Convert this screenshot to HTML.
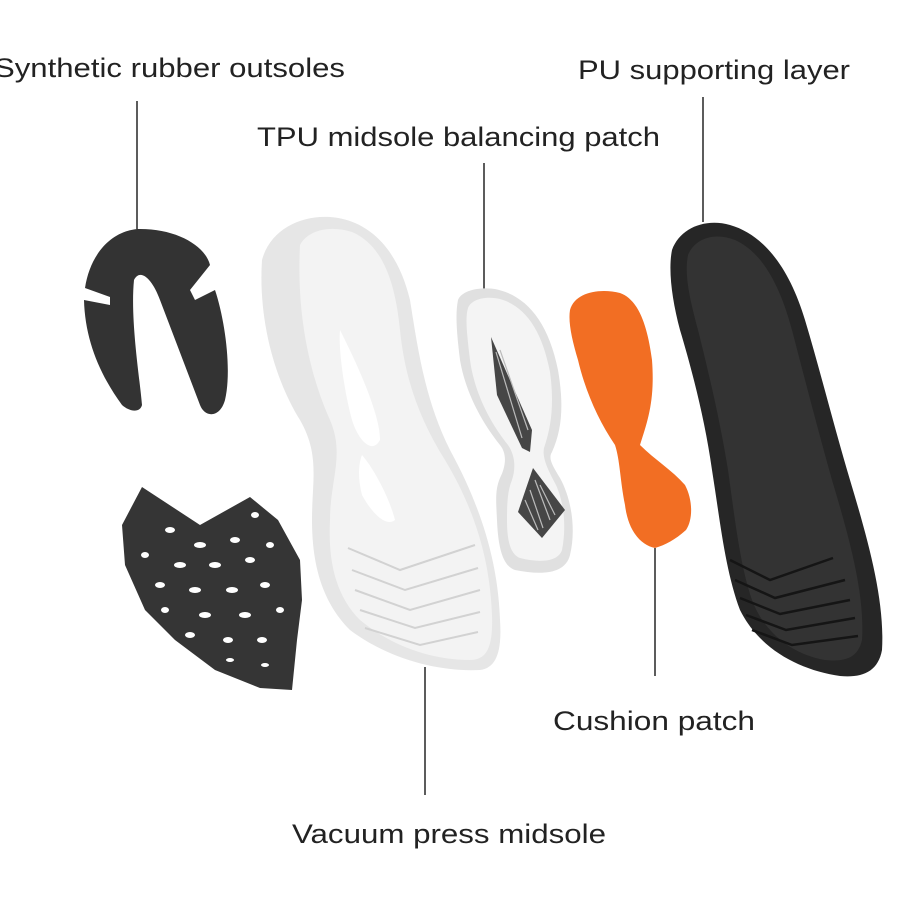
<!DOCTYPE html>
<html><head><meta charset="utf-8"><style>
html,body{margin:0;padding:0;background:#fff;}
svg{display:block;}
text{font-family:"Liberation Sans",sans-serif;font-size:27px;fill:#222;}
</style></head><body>
<svg width="912" height="912" viewBox="0 0 912 912" xmlns="http://www.w3.org/2000/svg">
<rect width="912" height="912" fill="#fff"/>
<text x="-6" y="77" textLength="351" lengthAdjust="spacingAndGlyphs">Synthetic rubber outsoles</text>
<text x="578" y="79" textLength="272" lengthAdjust="spacingAndGlyphs">PU supporting layer</text>
<text x="257" y="146" textLength="403" lengthAdjust="spacingAndGlyphs">TPU midsole balancing patch</text>
<text x="553" y="730" textLength="202" lengthAdjust="spacingAndGlyphs">Cushion patch</text>
<text x="292" y="843" textLength="314" lengthAdjust="spacingAndGlyphs">Vacuum press midsole</text>
<g stroke="#333" stroke-width="1.6">
<line x1="137" y1="101" x2="137" y2="229"/>
<line x1="703" y1="97" x2="703" y2="222"/>
<line x1="484" y1="163" x2="484" y2="289"/>
<line x1="655" y1="548" x2="655" y2="676"/>
<line x1="425" y1="667" x2="425" y2="795"/>
</g>
<!-- horseshoe -->
<path d="M137,229 C175,228 205,245 210,265 L190,290 L195,300 L215,290 C225,320 232,370 225,400 C220,418 205,418 200,405 L160,300 C152,278 140,268 134,280 C130,320 140,380 142,405 C140,413 130,412 122,405 C100,375 85,340 84,300 L110,305 L110,297 L85,288 C90,255 110,232 137,229 Z" fill="#333"/>
<!-- mesh -->
<path d="M142,487 L200,525 L250,497 L278,520 L300,560 L302,600 L297,640 L292,690 L260,688 L215,670 L175,640 L145,610 L125,565 L122,525 Z" fill="#353535"/>
<g fill="#fff">
<ellipse cx="170" cy="530" rx="5" ry="3"/><ellipse cx="200" cy="545" rx="6" ry="3"/><ellipse cx="235" cy="540" rx="5" ry="3"/><ellipse cx="255" cy="515" rx="4" ry="3"/>
<ellipse cx="145" cy="555" rx="4" ry="3"/><ellipse cx="180" cy="565" rx="6" ry="3"/><ellipse cx="215" cy="565" rx="6" ry="3"/><ellipse cx="250" cy="560" rx="5" ry="3"/><ellipse cx="270" cy="545" rx="4" ry="3"/>
<ellipse cx="160" cy="585" rx="5" ry="3"/><ellipse cx="195" cy="590" rx="6" ry="3"/><ellipse cx="232" cy="590" rx="6" ry="3"/><ellipse cx="265" cy="585" rx="5" ry="3"/>
<ellipse cx="165" cy="610" rx="4" ry="3"/><ellipse cx="205" cy="615" rx="6" ry="3"/><ellipse cx="245" cy="615" rx="6" ry="3"/><ellipse cx="280" cy="610" rx="4" ry="3"/>
<ellipse cx="190" cy="635" rx="5" ry="3"/><ellipse cx="228" cy="640" rx="5" ry="3"/><ellipse cx="262" cy="640" rx="5" ry="3"/>
<ellipse cx="230" cy="660" rx="4" ry="2"/><ellipse cx="265" cy="665" rx="4" ry="2"/>
</g>
<!-- vacuum midsole -->
<path d="M262,260 C270,230 300,215 330,217 C370,220 398,250 410,300 C418,350 425,400 450,450 C480,505 498,560 500,620 C502,650 497,668 480,670 C440,672 390,660 350,630 C320,600 312,560 312,520 C312,480 320,455 300,420 C275,380 258,320 262,260 Z" fill="#e6e6e6"/>
<path d="M300,245 C308,230 330,225 352,232 C382,245 395,280 400,330 C405,380 420,420 445,460 C475,510 490,560 492,615 C493,645 488,660 470,660 C430,660 390,645 360,620 C335,595 328,560 330,520 C330,480 345,455 330,420 C312,380 296,320 300,245 Z" fill="#f3f3f3"/>
<path d="M340,330 C350,350 380,410 380,440 C372,455 358,440 352,420 C345,395 338,350 340,330 Z" fill="#fff"/>
<path d="M362,455 C375,470 390,500 395,520 C385,528 370,510 362,495 C358,480 358,465 362,455 Z" fill="#fff"/>
<g stroke="#d2d2d2" stroke-width="2" fill="none">
<path d="M348,548 L400,570 L475,545"/><path d="M352,570 L405,590 L478,568"/><path d="M355,590 L410,610 L480,590"/><path d="M360,610 L415,628 L480,612"/><path d="M365,628 L420,645 L478,632"/>
</g>
<!-- TPU patch -->
<path d="M458,300 C462,290 480,287 495,289 C525,295 548,320 558,370 C564,405 562,430 552,452 C548,458 552,465 560,478 C572,500 576,530 570,555 C565,575 540,575 515,570 C502,566 498,545 497,520 C496,500 495,490 500,478 C505,468 508,455 500,445 C480,420 465,390 460,360 C457,335 455,315 458,300 Z" fill="#e0e0e0"/>
<path d="M468,308 C472,298 488,296 500,299 C525,306 542,330 550,372 C554,402 552,425 544,448 C542,458 548,470 556,485 C565,505 566,530 562,550 C558,562 540,563 520,558 C510,554 507,540 507,520 C507,500 508,490 512,480 C516,468 515,455 508,445 C488,420 474,390 470,360 C467,335 465,318 468,308 Z" fill="#f4f4f4"/>
<path d="M491,337 L532,430 L530,452 L522,448 L497,395 Z" fill="#464646"/>
<path d="M533,468 L565,510 L542,538 L518,512 Z" fill="#464646"/>
<g stroke="#bbb" stroke-width="1.2">
<line x1="496" y1="352" x2="522" y2="438"/><line x1="500" y1="350" x2="528" y2="430"/>
<line x1="525" y1="500" x2="538" y2="530"/><line x1="530" y1="490" x2="543" y2="528"/><line x1="535" y1="480" x2="550" y2="520"/><line x1="540" y1="485" x2="555" y2="515"/>
</g>
<!-- orange patch -->
<path d="M570,310 C575,292 600,288 620,293 C640,300 648,330 652,360 C655,400 648,420 640,445 C655,460 672,470 685,485 C693,500 693,520 686,530 C675,540 665,545 655,548 C640,545 628,530 625,505 C620,480 620,460 615,445 C598,420 585,390 578,360 C572,340 568,322 570,310 Z" fill="#f26e23"/>
<!-- PU insole -->
<path d="M672,250 C680,228 705,218 730,225 C765,235 790,270 805,320 C820,370 835,430 850,480 C868,540 885,600 882,650 C878,672 862,678 840,676 C800,670 760,650 740,610 C725,570 720,520 712,470 C705,420 692,370 680,330 C672,300 668,270 672,250 Z" fill="#262626"/>
<path d="M688,255 C695,238 715,232 735,240 C762,252 780,285 792,330 C805,380 818,430 832,480 C850,540 865,595 862,640 C858,658 845,662 825,660 C795,655 765,635 752,600 C740,565 735,520 728,470 C720,420 708,370 698,330 C690,300 684,275 688,255 Z" fill="#333"/>
<g stroke="#151515" stroke-width="2.5" fill="none">
<path d="M730,560 L770,580 L833,558"/><path d="M735,580 L775,598 L845,580"/><path d="M740,598 L780,614 L850,600"/><path d="M746,615 L786,630 L855,618"/><path d="M752,630 L792,645 L858,636"/>
</g>
</svg>
</body></html>
